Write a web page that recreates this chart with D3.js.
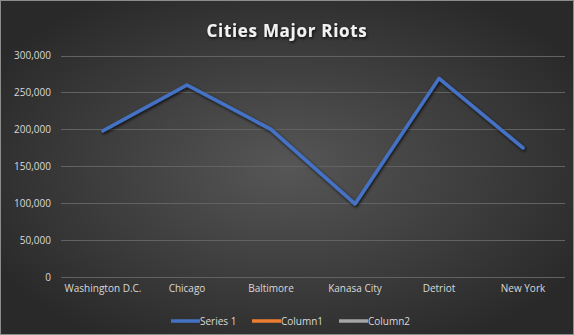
<!DOCTYPE html>
<html><head><meta charset="utf-8">
<script src="https://cdn.jsdelivr.net/npm/d3@7/dist/d3.min.js"></script>
<style>html,body{margin:0;padding:0;background:#2a2a2a;}svg{display:block;}</style>
</head><body>
<script>
const categories = ["Washington D.C.", "Chicago", "Baltimore", "Kanasa City", "Detriot", "New York"];
const series1 = [198000, 260000, 200000, 99000, 269000, 175000];
const yTicks = [0, 50000, 100000, 150000, 200000, 250000, 300000];
const legendItems = ["Series 1", "Column1", "Column2"];
const legendColors = ["#4472C4", "#ED7D31", "#A5A5A5"];

const W = 574, H = 335;
const svg = d3.select("body").append("svg").attr("width", W).attr("height", H);
const defs = svg.append("defs");
const rg = defs.append("radialGradient").attr("id", "bg").attr("cx", "50%").attr("cy", "50%").attr("r", "60%");
rg.append("stop").attr("offset", "0%").attr("stop-color", "#565656");
rg.append("stop").attr("offset", "100%").attr("stop-color", "#292929");
const f = defs.append("filter").attr("id", "sh").attr("x", "-10%").attr("y", "-30%").attr("width", "120%").attr("height", "160%");
f.append("feDropShadow").attr("dx", 1).attr("dy", 1.5).attr("stdDeviation", 1.5).attr("flood-color", "#000").attr("flood-opacity", 0.8);

svg.append("rect").attr("x", 0.5).attr("y", 0.5).attr("width", W - 1).attr("height", H - 1)
  .attr("fill", "url(#bg)").attr("stroke", "#8c8c8c").attr("stroke-width", 1);

const x = d3.scaleBand().domain(categories).range([61, 565]);
const y = d3.scaleLinear().domain([0, 300000]).range([277, 55.5]);

const grid = svg.append("g");
grid.selectAll("line").data(yTicks).join("line")
  .attr("x1", 61).attr("x2", 565)
  .attr("y1", d => Math.round(y(d)) + 0.5).attr("y2", d => Math.round(y(d)) + 0.5)
  .attr("stroke", "#626262").attr("stroke-width", 1);

const yAxis = svg.append("g").attr("transform", "translate(51,0)")
  .call(d3.axisLeft(y).tickValues(yTicks).tickSize(0).tickPadding(0).tickFormat(d3.format(",")));
yAxis.select(".domain").remove();
yAxis.selectAll("text").attr("fill", "#d9d9d9").style("font-family", "'Open Sans', sans-serif").style("font-size", "10px");

const xAxis = svg.append("g").attr("transform", "translate(0,285)")
  .call(d3.axisBottom(x).tickSize(0).tickPadding(0));
xAxis.select(".domain").remove();
xAxis.selectAll("text").attr("fill", "#d9d9d9").style("font-family", "'Open Sans', sans-serif").style("font-size", "10px");

svg.append("path").datum(series1)
  .attr("fill", "none").attr("stroke", "#4472C4").attr("stroke-width", 3.5)
  .attr("stroke-linejoin", "round").attr("stroke-linecap", "round")
  .attr("filter", "url(#sh)")
  .attr("d", d3.line().x((d, i) => x(categories[i]) + x.bandwidth() / 2).y(d => y(d)));

svg.append("text").attr("x", 287).attr("y", 37).attr("text-anchor", "middle")
  .attr("fill", "#f2f2f2").attr("filter", "url(#sh)")
  .style("font-family", "'Open Sans', sans-serif").style("font-weight", "bold").style("font-size", "17px")
  .style("letter-spacing", "0.7px")
  .text("Cities Major Riots");

const legendX = d3.scaleOrdinal().domain(legendItems).range([171, 252, 339]);
const lg = svg.append("g");
legendItems.forEach((name, i) => {
  const lx = legendX(name);
  lg.append("line").attr("x1", lx).attr("x2", lx + 29).attr("y1", 321).attr("y2", 321)
    .attr("stroke", legendColors[i]).attr("stroke-width", 3.5);
  lg.append("text").attr("x", lx + 29).attr("y", 324.5).attr("fill", "#d9d9d9")
    .style("font-family", "'Open Sans', sans-serif").style("font-size", "10px").text(name);
});
</script>
</body></html>
